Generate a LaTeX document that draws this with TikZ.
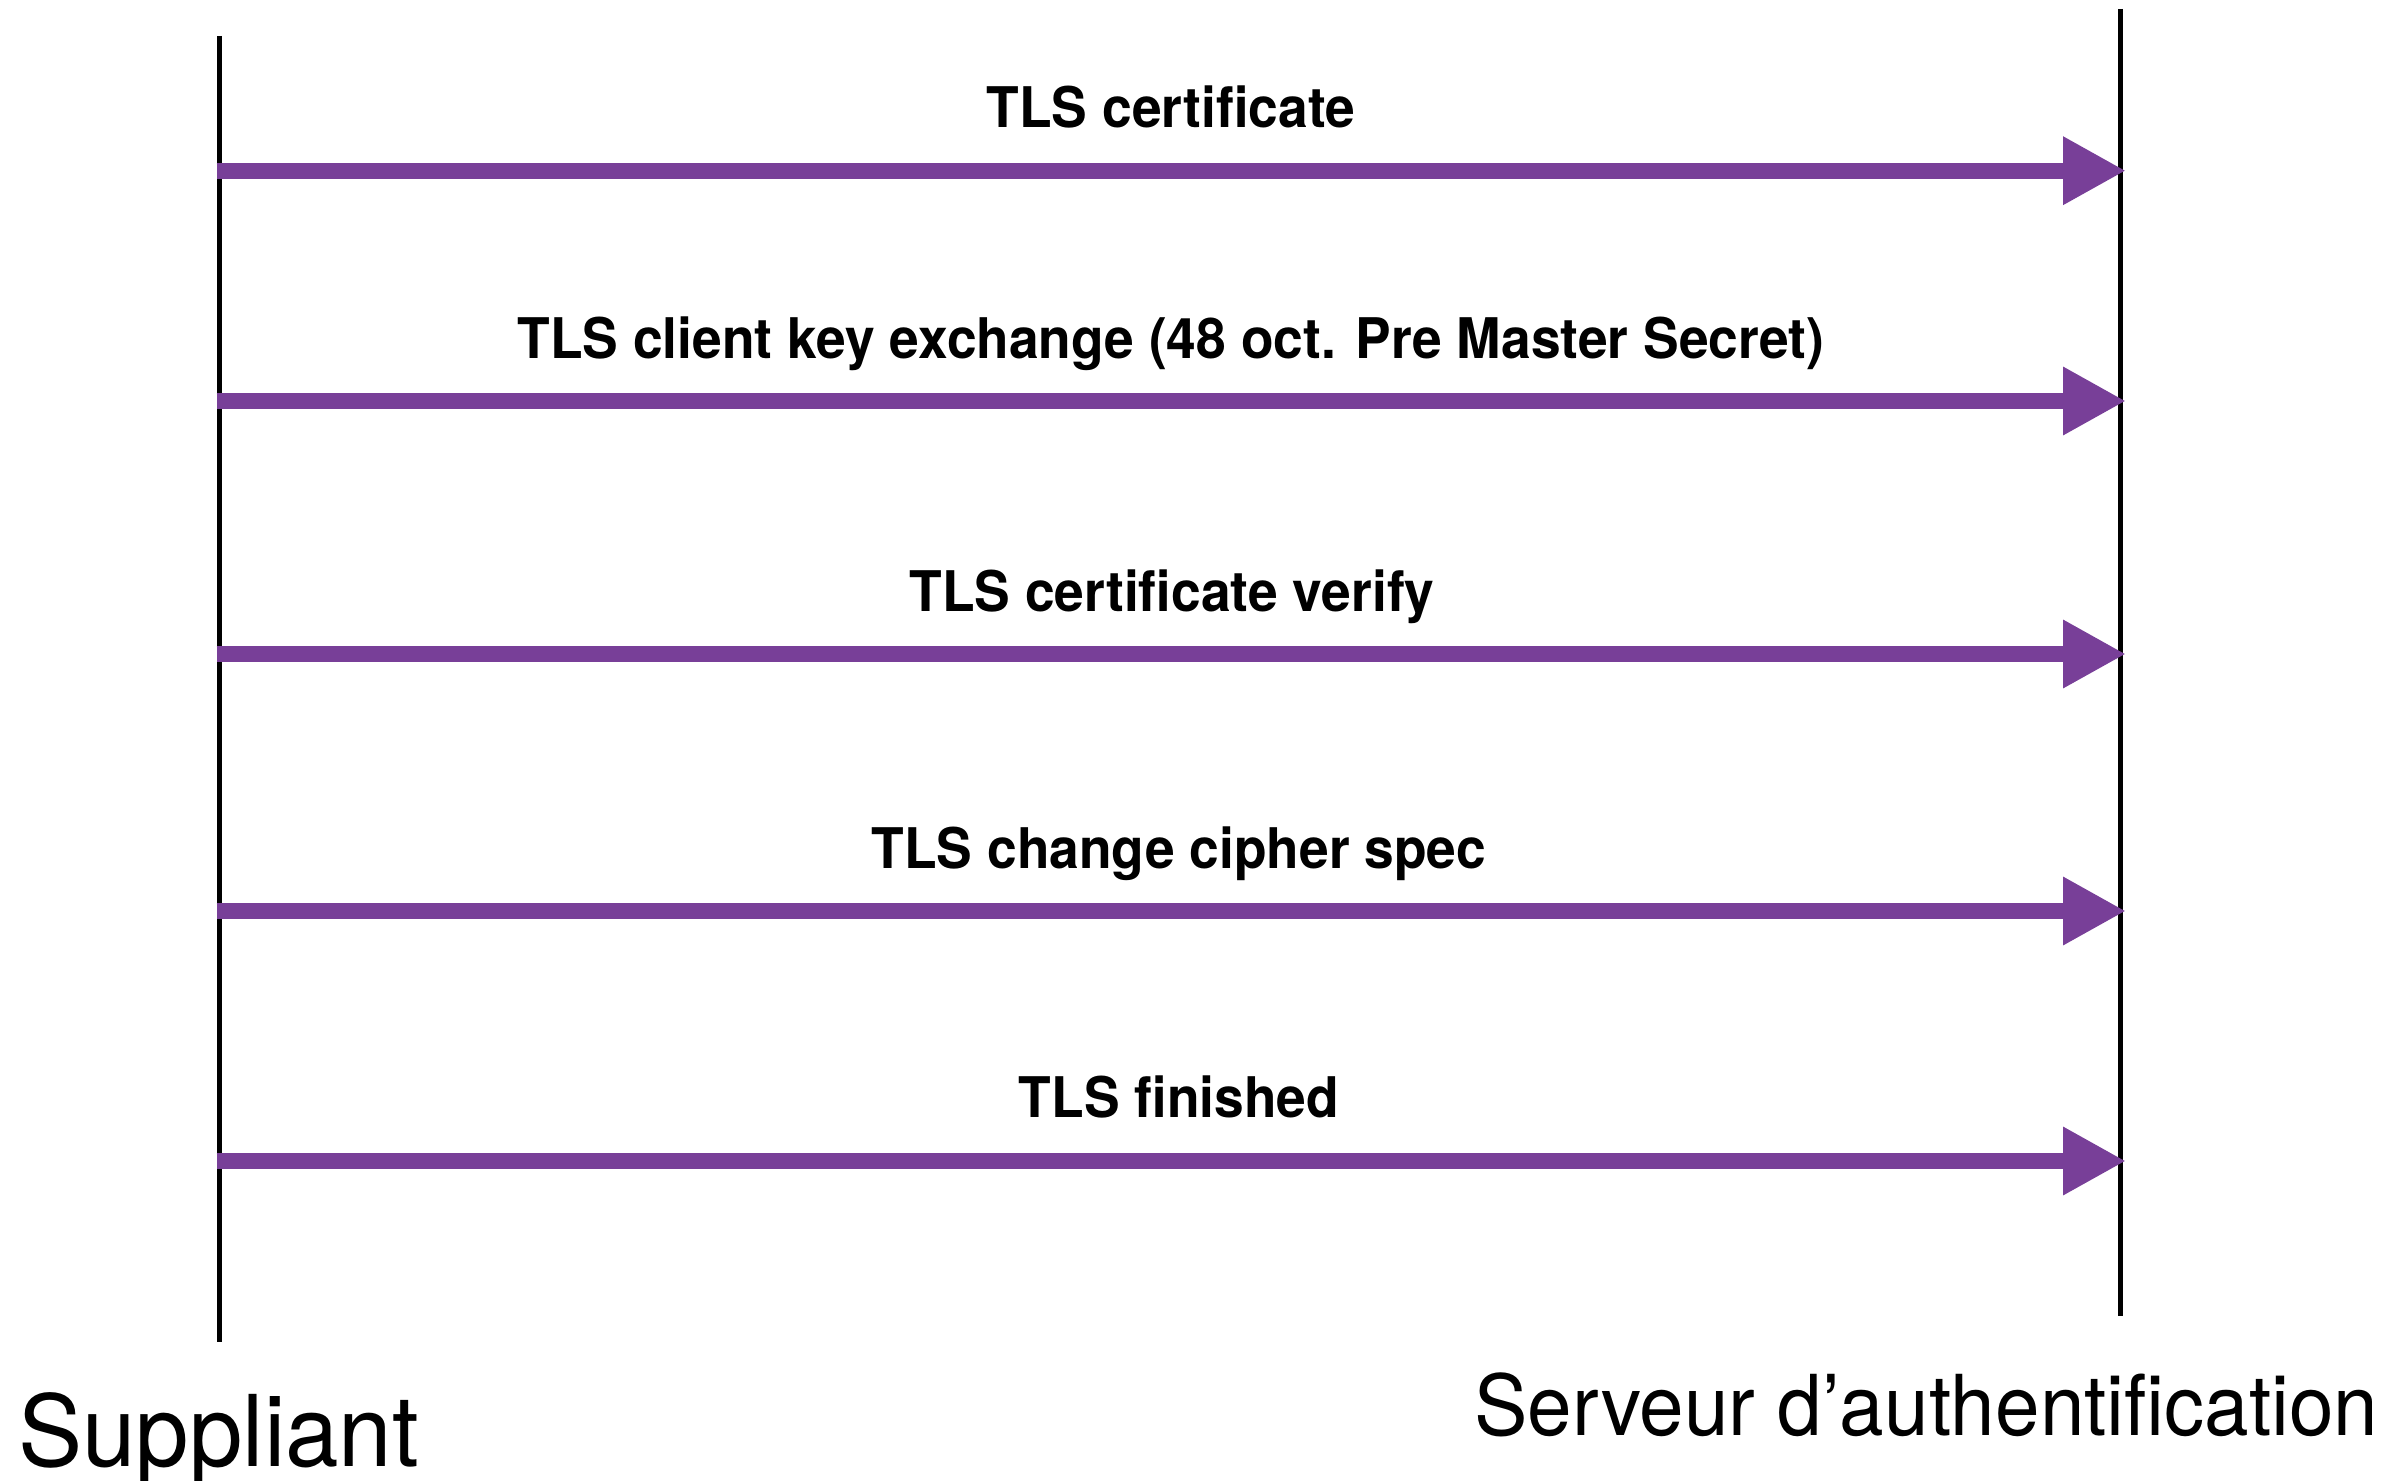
\documentclass[tikz,border=0pt]{standalone}
\usepackage{fontspec}
\setmainfont{TeX Gyre Heros}
\usetikzlibrary{arrows.meta}
\definecolor{msgpurple}{RGB}{120,63,152}
\newcommand{\narrowtext}[1]{\scalebox{0.953}[1]{#1}}
\tikzset{
  lifeline/.style={line width=5pt, black},
  msg/.style={line width=16pt, msgpurple, -{Triangle[length=63pt,width=64pt]}},
  msglabel/.style={anchor=base, inner sep=0pt, font=\fontsize{56}{60}\selectfont\bfseries},
  actor/.style={anchor=base west, inner sep=0pt},
}
\begin{document}
\begin{tikzpicture}[x=1pt,y=-1pt]
  \useasboundingbox (0,0) rectangle (2408,1480);
  % lifelines
  \coordinate (stop) at (219,36);
  \coordinate (sbot) at (219,1342);
  \coordinate (rtop) at (2120.5,9);
  \coordinate (rbot) at (2120.5,1316);
  \draw[lifeline] (stop) -- (sbot);
  \draw[lifeline] (rtop) -- (rbot);
  % message endpoints
  \foreach \i/\y in {1/170.7,2/401,3/654,4/911,5/1161}{
    \coordinate (a\i) at (216.5,\y);
    \coordinate (b\i) at (2126,\y);
  }
  \draw[msg] (a1) -- (b1);
  \draw[msg] (a2) -- (b2);
  \draw[msg] (a3) -- (b3);
  \draw[msg] (a4) -- (b4);
  \draw[msg] (a5) -- (b5);
  % message labels
  \node[msglabel] (l1) at (1171,127) {\narrowtext{TLS certificate}};
  \node[msglabel] (l2) at (1171,358) {\narrowtext{TLS client key exchange (48 oct. Pre Master Secret)}};
  \node[msglabel] (l3) at (1172,611) {\narrowtext{TLS certificate verify}};
  \node[msglabel] (l4) at (1179,868) {\narrowtext{TLS change cipher spec}};
  \node[msglabel] (l5) at (1179,1117) {\narrowtext{TLS finished}};
  % actor names
  \node[actor, font=\fontsize{99}{110}\selectfont] (sup) at (18,1466) {\resizebox{401pt}{\height}{Suppliant}};
  \node[actor, font=\fontsize{84}{95}\selectfont] (srv) at (1474,1435) {\resizebox{904pt}{\height}{Serveur d’authentification}};
\end{tikzpicture}
\end{document}
